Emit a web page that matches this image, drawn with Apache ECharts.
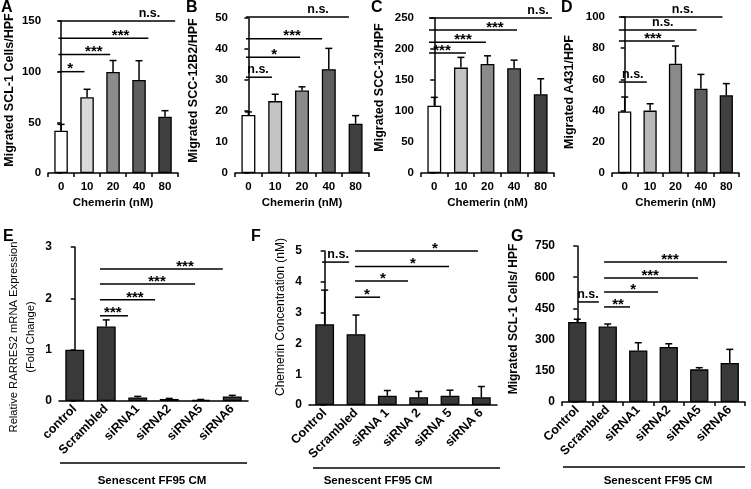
<!DOCTYPE html>
<html><head><meta charset="utf-8">
<script src="https://cdn.jsdelivr.net/npm/echarts@6/dist/echarts.min.js"></script>
<style>html,body{margin:0;padding:0;background:#fff}#c{width:751px;height:489px}</style>
</head><body><div id="c"></div>
<script>
// ---------- data ----------
const chemCats = ['0', '10', '20', '40', '80'];
const aVals = [41.7, 74.7, 99.7, 91.8, 55.6];
const aErrTop = [48, 82.6, 111, 110.8, 61.5];
const aSig = [[-0.1, 4.39, 150, 3.4], [-0.1, 3.36, 133, 2.29], [-0.1, 1.89, 117, 1.26], [-0.1, 0.9, 100, 0.35]];
const aSigLabels = ['n.s.', '***', '***', '*'];

const bVals = [18.7, 23.2, 26.6, 33.5, 15.9];
const bErrTop = [19.7, 25.4, 27.8, 40.2, 18.5];
const bSig = [[-0.09, 3.75, 50.3, 2.6], [-0.09, 2.75, 43.3, 1.63], [-0.09, 1.93, 37.3, 0.96], [-0.09, 0.88, 30.9, 0.36]];
const bSigLabels = ['n.s.', '***', '*', 'n.s.'];

const cVals = [108.6, 170, 176, 169, 127];
const cErrTop = [122, 186.5, 189, 182, 152];
const cSig = [[-0.2, 4.42, 250, 3.9], [-0.2, 3.11, 230.6, 2.28], [-0.2, 1.94, 211, 1.08], [-0.2, 1.19, 193.5, 0.29]];
const cSigLabels = ['n.s.', '***', '***', '***'];

const dVals = [39.5, 40, 70, 54, 49.8];
const dErrTop = [48.7, 44.4, 81.4, 63.2, 57.3];
const dSig = [[-0.23, 3.85, 100, 2.28], [-0.23, 2.83, 91.7, 1.5], [-0.23, 1.97, 84.6, 1.11], [-0.23, 0.87, 58.3, 0.32]];
const dSigLabels = ['n.s.', 'n.s.', '***', 'n.s.'];

const eCats = ['control', 'Scrambled', 'siRNA1', 'siRNA2', 'siRNA5', 'siRNA6'];
const eVals = [1.0, 1.45, 0.07, 0.04, 0.02, 0.09];
const eErrTop = [null, 1.58, 0.09, 0.05, 0.03, 0.11];
const eSig = [[0.8, 4.7, 2.57, 3.5], [0.8, 3.82, 2.28, 2.61], [0.8, 2.55, 1.97, 1.91], [0.8, 1.69, 1.66, 1.21]];
const eSigLabels = ['***', '***', '***', '***'];

const fCats = ['Control', 'Scrambled', 'siRNA 1', 'siRNA 2', 'siRNA 5', 'siRNA 6'];
const fVals = [2.62, 2.3, 0.3, 0.25, 0.3, 0.25];
const fErrTop = [3.73, 2.92, 0.47, 0.44, 0.48, 0.6];
const fSig = [[-0.085, 0.78, 4.64, 0.43], [0.97, 4.89, 5.0, 3.52], [0.97, 3.97, 4.5, 2.82], [0.97, 2.66, 4.03, 1.86], [0.97, 1.77, 3.5, 1.35]];
const fSigLabels = ['n.s.', '*', '*', '*', '*'];

const gCats = ['Control', 'Scrambled', 'siRNA1', 'siRNA2', 'siRNA5', 'siRNA6'];
const gVals = [385, 363, 248, 265, 157, 188];
const gErrTop = [398, 375, 285, 280, 165, 253];
const gSig = [[0.02, 0.71, 481, 0.35], [0.88, 4.91, 673, 3.04], [0.88, 3.96, 596, 2.39], [0.88, 2.65, 529, 1.83], [0.88, 1.73, 457, 1.34]];
const gSigLabels = ['n.s.', '***', '***', '*', '**'];

// ---------- layout / style ----------
const FONT = '"Liberation Sans", Arial, sans-serif';
const panels = [
  {letter: 'A', lx: 1, ly: 0, cats: chemCats, vals: aVals, err: aErrTop, sig: aSig, sigL: aSigLabels,
   colors: ['#ffffff', '#d9d9d9', '#8c8c8c', '#5e5e5e', '#404040'], max: 150, interval: 50,
   grid: {left: 42, top: 21, width: 136, height: 152}, yName: 'Migrated SCL-1 Cells/HPF', yGap: 27, yBold: true, yNameSize: 12.5,
   yPad: [0, 0, 0, 14], xName: 'Chemerin (nM)', style: 'chem'},
  {letter: 'B', lx: 186, ly: 0, cats: chemCats, vals: bVals, err: bErrTop, sig: bSig, sigL: bSigLabels,
   colors: ['#ffffff', '#c4c4c4', '#8a8a8a', '#5e5e5e', '#404040'], max: 50, interval: 10,
   grid: {left: 235, top: 18, width: 134, height: 155}, yName: 'Migrated SCC-12B2/HPF', yGap: 33, yBold: true, yNameSize: 12.5,
   yPad: [0, 0, 0, 10], xName: 'Chemerin (nM)', style: 'chem'},
  {letter: 'C', lx: 371, ly: 0, cats: chemCats, vals: cVals, err: cErrTop, sig: cSig, sigL: cSigLabels,
   colors: ['#ffffff', '#c4c4c4', '#8a8a8a', '#5e5e5e', '#404040'], max: 250, interval: 50,
   grid: {left: 421, top: 18, width: 133, height: 155}, yName: 'Migrated SCC-13/HPF', yGap: 33, yBold: true, yNameSize: 12.5,
   yPad: [0, 0, 0, 16], xName: 'Chemerin (nM)', style: 'chem'},
  {letter: 'D', lx: 561, ly: 0, cats: chemCats, vals: dVals, err: dErrTop, sig: dSig, sigL: dSigLabels,
   colors: ['#ffffff', '#b8b8b8', '#8a8a8a', '#5e5e5e', '#404040'], max: 100, interval: 20,
   grid: {left: 612, top: 17, width: 127, height: 156}, yName: 'Migrated A431/HPF', yGap: 34, yBold: true, yNameSize: 12.5,
   yPad: [0, 0, 0, 6], xName: 'Chemerin (nM)', style: 'chem'},
  {letter: 'E', lx: 3, ly: 229, cats: eCats, vals: eVals, err: eErrTop, sig: eSig, sigL: eSigLabels,
   colors: null, max: 3, interval: 1,
   grid: {left: 59, top: 247, width: 189, height: 154}, yName: 'Relative RARRES2 mRNA Expression\n(Fold Change)', yGap: 20, yBold: false, yNameSize: 11.2,
   yPad: [0, 26, 0, 0], xName: 'Senescent FF95 CM', style: 'prism', bx1: 60, bx2: 247, by: 463, tx: 152},
  {letter: 'F', lx: 251, ly: 229, cats: fCats, vals: fVals, err: fErrTop, sig: fSig, sigL: fSigLabels,
   colors: null, max: 5, interval: 1,
   grid: {left: 309, top: 251, width: 188, height: 154}, yName: 'Chemerin Concentration (nM)', yGap: 20, yBold: false, yNameSize: 12,
   yPad: [0, 0, 0, 22], xName: 'Senescent FF95 CM', style: 'prism', bx1: 313, bx2: 500, by: 468, tx: 378},
  {letter: 'G', lx: 511, ly: 229, cats: gCats, vals: gVals, err: gErrTop, sig: gSig, sigL: gSigLabels,
   colors: null, max: 750, interval: 150,
   grid: {left: 562, top: 246, width: 183, height: 156}, yName: 'Migrated SCL-1 Cells/ HPF', yGap: 40, yBold: true, yNameSize: 12,
   yPad: [0, 0, 0, 10], xName: 'Senescent FF95 CM', style: 'excel', bx1: 563, bx2: 745, by: 467, tx: 658}
];

const option = {
  backgroundColor: '#fff',
  animation: false,
  title: [], grid: [], xAxis: [], yAxis: [], series: [], graphic: []
};

panels.forEach((p, gi) => {
  const n = p.cats.length;
  const rotated = p.style !== 'chem';
  option.title.push({text: p.letter, left: p.lx, top: p.ly, padding: 0,
    textStyle: {fontSize: 16, fontWeight: 'bold', fontFamily: FONT, color: '#000'}});
  option.grid.push(Object.assign({containLabel: false}, p.grid));
  const axisLine = {show: true, lineStyle: {color: '#000', width: 1.5}};
  option.xAxis.push({
    type: 'category', gridIndex: gi, data: p.cats, boundaryGap: true,
    axisLine: axisLine,
    axisTick: {show: p.style !== 'prism', length: 4, lineStyle: {color: '#000', width: 1.5}},
    axisLabel: {color: '#000', fontWeight: 'bold', fontFamily: FONT, fontSize: rotated ? 12.5 : 11.5,
      margin: rotated ? 6 : 8, rotate: rotated ? 45 : 0, interval: 0},
    name: p.style === 'chem' ? p.xName : '', nameLocation: 'middle', nameGap: 24,
    nameTextStyle: {color: '#000', fontWeight: 'bold', fontFamily: FONT, fontSize: 11.5}
  });
  option.xAxis.push({type: 'value', gridIndex: gi, min: -0.5, max: n - 0.5, show: false});
  option.yAxis.push({
    type: 'value', gridIndex: gi, min: 0, max: p.max, interval: p.interval,
    axisLine: axisLine,
    axisTick: {show: true, length: 4, lineStyle: {color: '#000', width: 1.5}},
    splitLine: {show: false},
    axisLabel: {color: '#000', fontWeight: 'bold', fontFamily: FONT, fontSize: p.style === 'chem' ? 11.5 : 12, margin: 7},
    name: p.yName, nameLocation: 'middle', nameGap: p.yGap, nameRotate: 90,
    nameTextStyle: {color: '#000', fontWeight: p.yBold ? 'bold' : 'normal', fontFamily: FONT,
      fontSize: p.yNameSize, lineHeight: 17, padding: p.yPad}
  });
  const catAx = gi * 2, valAx = gi * 2 + 1;
  option.series.push({
    type: 'bar', xAxisIndex: catAx, yAxisIndex: gi,
    barWidth: p.style === 'chem' ? '52%' : '60%',
    data: p.vals.map((v, i) => ({value: v, itemStyle: {color: p.colors ? p.colors[i] : '#393939'}})),
    itemStyle: {borderColor: '#000', borderWidth: 1.3},
    silent: true
  });
  option.series.push({
    type: 'custom', xAxisIndex: valAx, yAxisIndex: gi, z: 5, clip: false, silent: true,
    data: p.vals.map((v, i) => [i, v, p.err[i] == null ? v : p.err[i]]),
    renderItem: (params, api) => {
      const b = api.coord([api.value(0), api.value(1)]);
      const t = api.coord([api.value(0), api.value(2)]);
      if (Math.abs(b[1] - t[1]) < 0.5) return null;
      return {type: 'group', children: [
        {type: 'line', shape: {x1: b[0], y1: b[1], x2: t[0], y2: t[1]}, style: {stroke: '#000', lineWidth: 1.5}},
        {type: 'line', shape: {x1: t[0] - 3.5, y1: t[1], x2: t[0] + 3.5, y2: t[1]}, style: {stroke: '#000', lineWidth: 1.5}}
      ]};
    }
  });
  const labels = p.sigL;
  option.series.push({
    type: 'custom', xAxisIndex: valAx, yAxisIndex: gi, z: 6, clip: false, silent: true,
    data: p.sig,
    renderItem: (params, api) => {
      const p1 = api.coord([api.value(0), api.value(2)]);
      const p2 = api.coord([api.value(1), api.value(2)]);
      const pt = api.coord([api.value(3), api.value(2)]);
      const lab = labels[params.dataIndex];
      const star = lab.indexOf('*') >= 0;
      return {type: 'group', children: [
        {type: 'line', shape: {x1: p1[0], y1: p1[1], x2: p2[0], y2: p2[1]}, style: {stroke: '#000', lineWidth: 1.5}},
        {type: 'text', style: {text: lab, x: pt[0], y: star ? p1[1] + 5 : p1[1] - 1,
          align: 'center', verticalAlign: 'bottom', fill: '#000',
          fontSize: star ? 15 : 12.5, fontWeight: 'bold', fontFamily: FONT}}
      ]};
    }
  });
  if (p.style !== 'chem') {
    option.graphic.push({type: 'line', shape: {x1: p.bx1, y1: p.by, x2: p.bx2, y2: p.by}, style: {stroke: '#000', lineWidth: 1.5}});
    option.graphic.push({type: 'text', x: p.tx, y: 481, style: {text: p.xName, align: 'center', verticalAlign: 'middle',
      fill: '#000', fontSize: 11.5, fontWeight: 'bold', fontFamily: FONT}});
  }
});

const chart = echarts.init(document.getElementById('c'), null, {renderer: 'canvas'});
chart.setOption(option);
</script>
</body></html>
